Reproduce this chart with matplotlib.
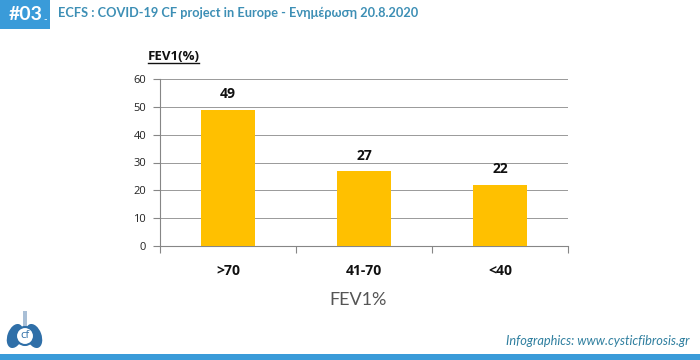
import matplotlib
matplotlib.use("Agg")
import matplotlib.pyplot as plt
from matplotlib.patches import Rectangle, Ellipse, Circle

categories = [">70", "41-70", "<40"]
values = [49, 27, 22]
yticks = [0, 10, 20, 30, 40, 50, 60]

W = 700
H = 360
BLUE = "#3a9bd9"
TITLE_BLUE = "#3d8fb5"

plt.rcParams['font.family'] = ['Open Sans', 'DejaVu Sans']

fig = plt.figure(figsize=(W / 100, H / 100), dpi=100)

# overlay in pixel coords for header, footer and logo
bg = fig.add_axes([0, 0, 1, 1])
bg.set_xlim(0, W)
bg.set_ylim(H, 0)
bg.axis("off")
bg.add_patch(Rectangle((0, 0), 50, 29, color=BLUE, lw=0))
bg.add_patch(Rectangle((0, 354), W, 6, color=BLUE, lw=0))
bg.text(9, 15, "#03", color="white", fontsize=14, va="center", ha="left", family="Lato", fontweight="bold")
bg.text(43, 20, "-", color="white", fontsize=7, va="center", ha="left", family="Lato")
bg.text(58, 13, "ECFS : COVID-19 CF project in Europe - Ενημέρωση 20.8.2020",
        color=TITLE_BLUE, fontsize=9.2, va="center", ha="left", family="Lato", fontweight="bold")
bg.text(506, 341, "Infographics: www.cysticfibrosis.gr", color="#2f7f9f", fontsize=9.2,
        style="italic", va="center", ha="left", family="Lato")
bg.text(358, 300, "FEV1%", color="#555555", fontsize=13, va="center", ha="center",
        family="Lato")

# logo, rough shapes
bg.add_patch(Rectangle((22.5, 311), 4, 16, color="#a9bfd6", lw=0))
bg.add_patch(Ellipse((15, 336), 15, 25, angle=20, color="#2f6fa8", lw=0))
bg.add_patch(Ellipse((34, 336), 15, 25, angle=-20, color="#2f6fa8", lw=0))
bg.add_patch(Circle((25, 336), 9, facecolor="white", edgecolor="#2f6fa8", lw=1.5))
bg.text(25, 336, "cf", color="#2f6fa8", fontsize=8, ha="center", va="center")

ax = fig.add_axes([160 / W, 1 - 246 / H, 408 / W, 167 / H])
x = list(range(len(categories)))
ax.bar(x, values, width=0.4, color="#ffc000", zorder=3)
ax.set_xlim(-0.5, 2.5)
ax.set_ylim(0, 60)
ax.set_yticks(yticks)
ax.set_xticks([-0.5, 0.5, 1.5, 2.5])
ax.set_xticklabels([])
ax.tick_params(axis="x", length=5, color="#868686", direction="out")
ax.tick_params(axis="y", length=5, color="#868686", labelsize=8, pad=5, labelcolor="#222222")
ax.grid(axis="y", color="#999999", lw=0.7, zorder=0)
for s in ["top", "right"]:
    ax.spines[s].set_visible(False)
for s in ["left", "bottom"]:
    ax.spines[s].set_color("#868686")

for i, v in enumerate(values):
    ax.annotate(str(v), (i, v), xytext=(0, 6), textcoords="offset points",
                ha="center", va="bottom", fontsize=10, fontweight="bold", color="#111111")
    ax.annotate(categories[i], (i, 0), xytext=(0, -18), textcoords="offset points",
                ha="center", va="center", fontsize=10, fontweight="bold", color="#111111",
                annotation_clip=False)

bg.text(148, 57, "FEV1(%)", fontsize=9.5, fontweight="bold", color="#111111", va="center", ha="left")
bg.plot([148, 199], [63, 63], color="#111111", lw=1)

fig.savefig("out.png", dpi=100)
